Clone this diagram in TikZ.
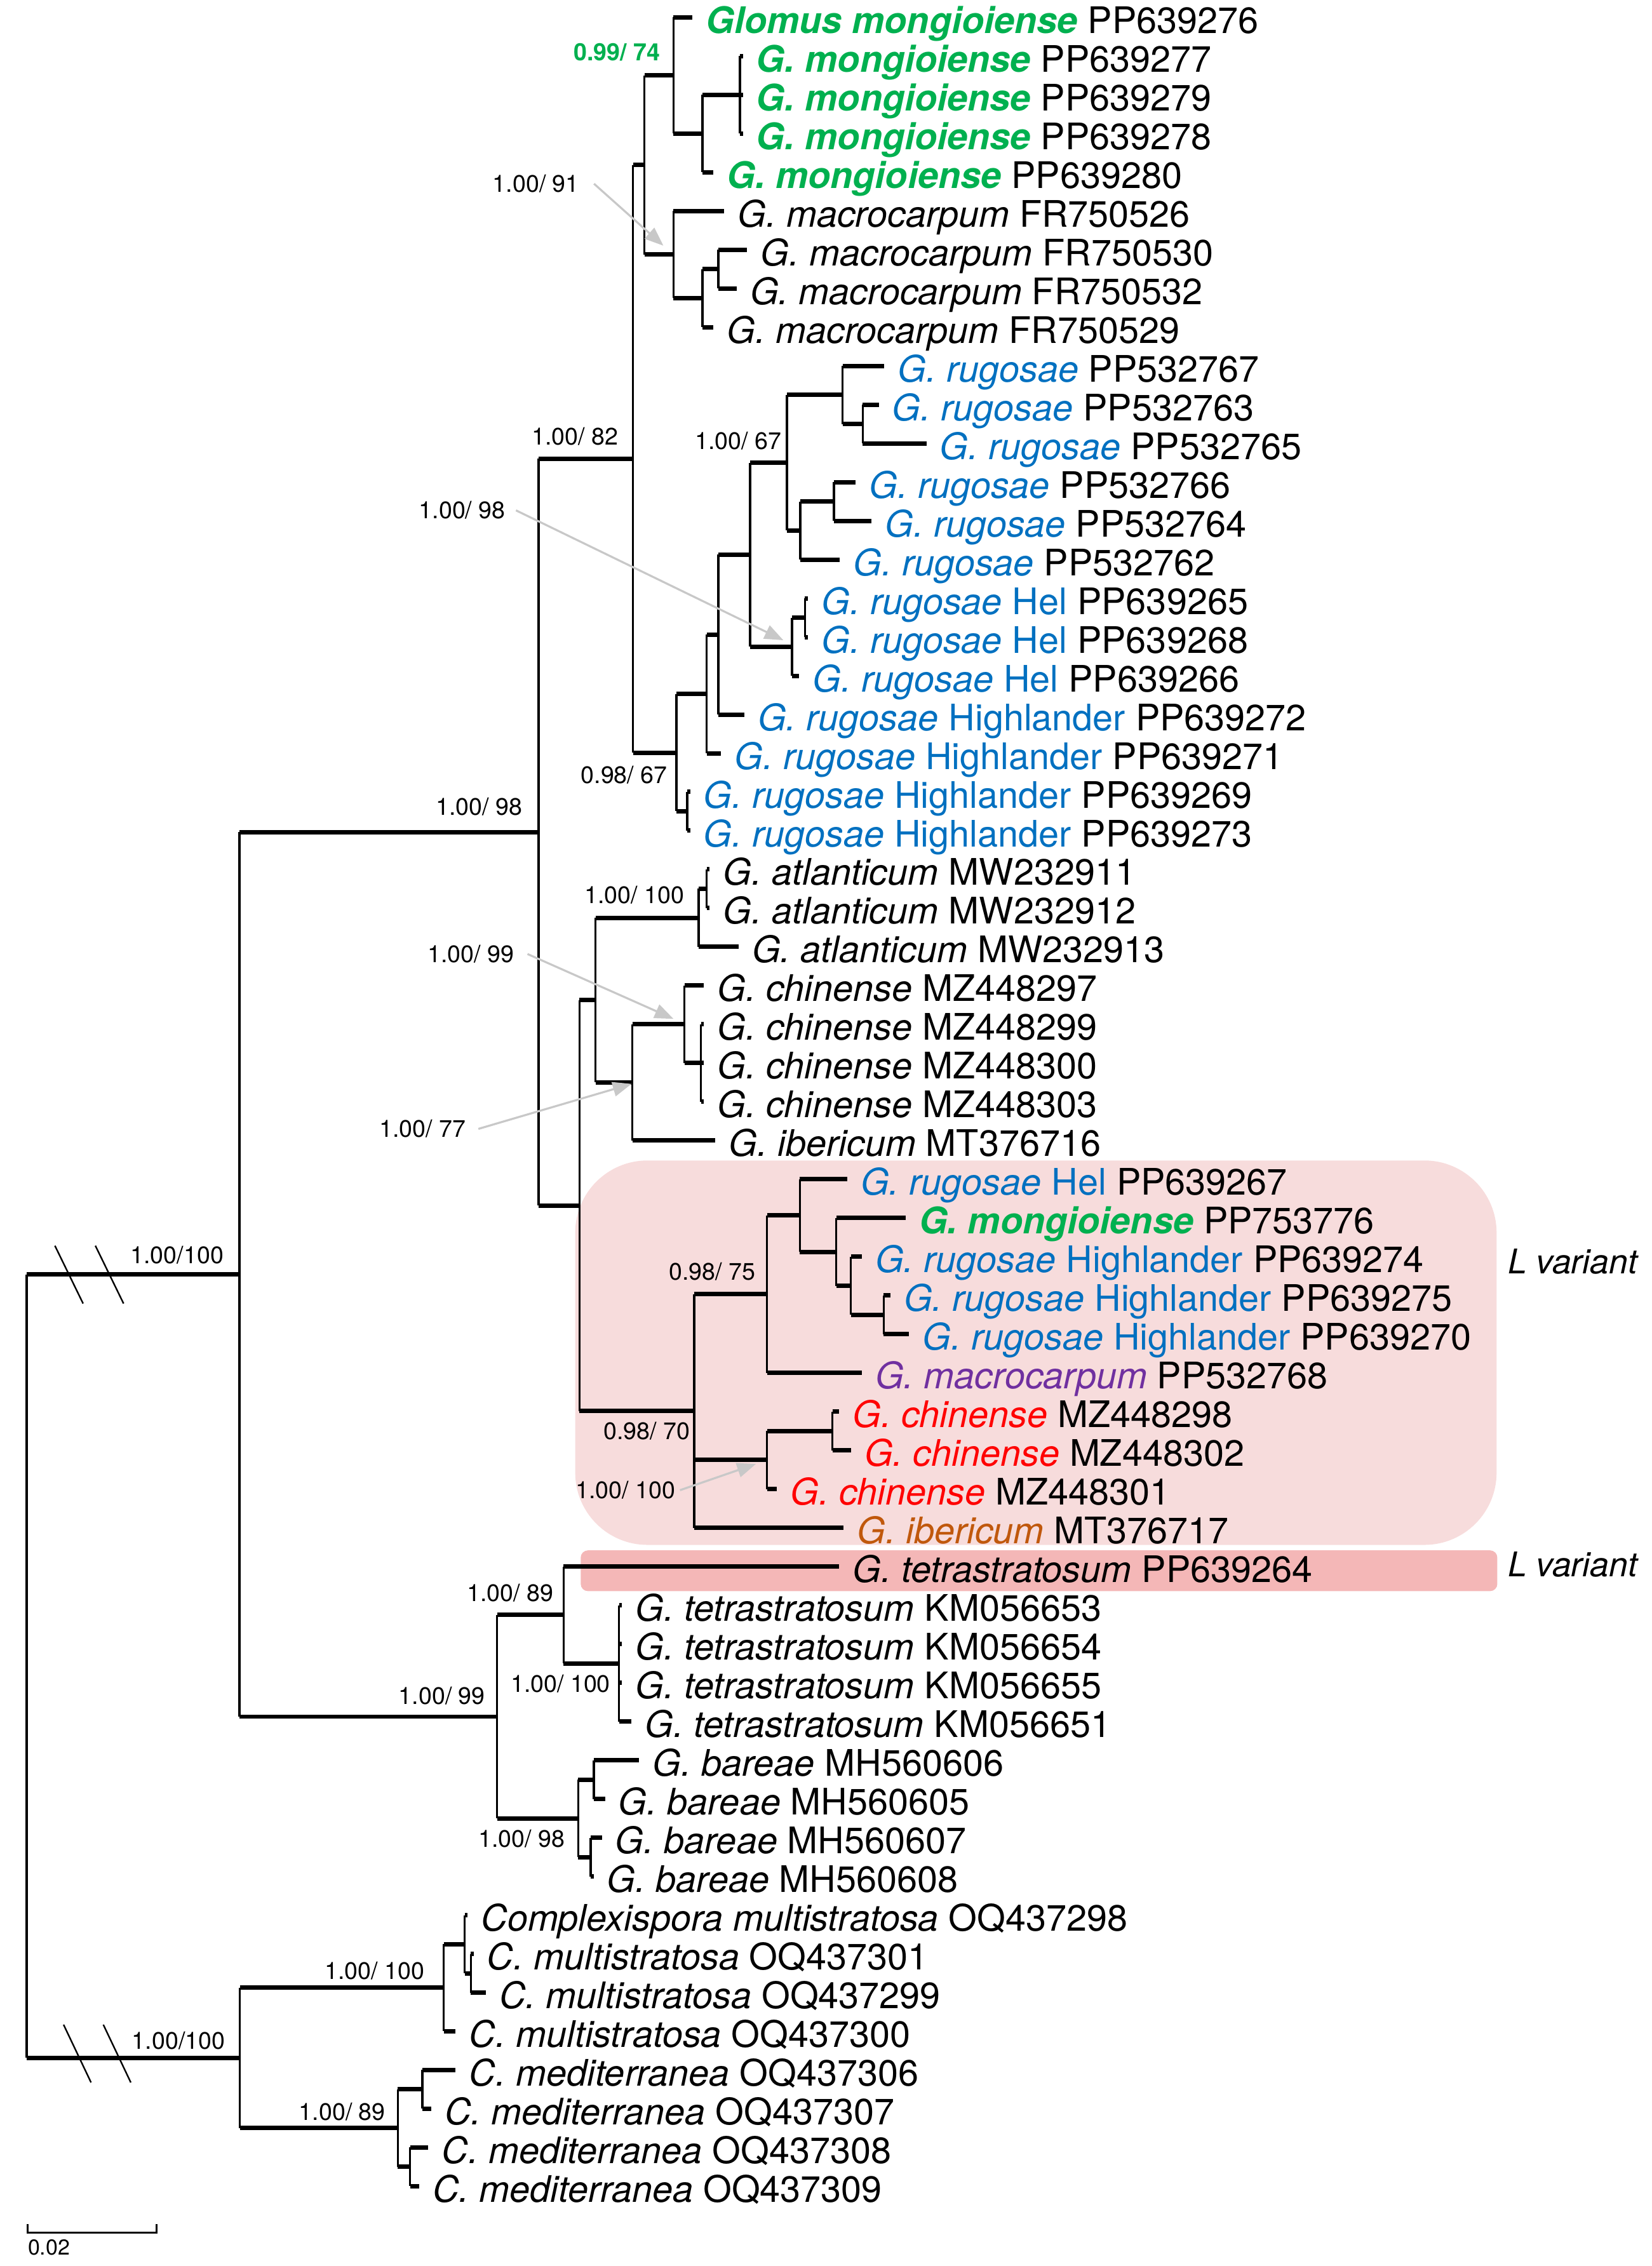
\documentclass[tikz,border=0pt]{standalone}
\usepackage{fontspec}
\setmainfont{TeX Gyre Heros}
\usepackage{tikz}
\usetikzlibrary{arrows.meta,positioning}

\definecolor{mongreen}{HTML}{00B04F}
\definecolor{rugblue}{HTML}{0070C0}
\definecolor{macpurple}{HTML}{7030A0}
\definecolor{chired}{HTML}{FF0000}
\definecolor{ibebrown}{HTML}{C0580C}
\definecolor{lboxpink}{HTML}{F7DCDC}
\definecolor{lbarpink}{HTML}{F4B7B7}
\definecolor{pointergray}{HTML}{C8C8C8}

\newcommand{\gmon}[1]{\textcolor{mongreen}{\bfseries\itshape #1}}
\newcommand{\grug}[1]{\textcolor{rugblue}{\textit{G. rugosae}#1}}

\begin{document}
\begin{tikzpicture}[x=0.02cm,y=-0.02cm,
    hbr/.style={draw,line width=1.75pt},
    vbr/.style={draw,line width=0.8pt},
    leaf/.style={anchor=base west,inner sep=0pt,xshift=0.18cm,yshift=-0.22cm,font=\fontsize{14.4}{16}\selectfont},
    support/.style={anchor=base east,inner sep=0pt,font=\fontsize{9.4}{11}\selectfont},
    pointer/.style={draw=pointergray,line width=0.8pt,-{Triangle[length=0.26cm,width=0.2cm]}},
    brk/.style={line width=0.6pt},
    lvar/.style={anchor=base west,inner sep=0pt,font=\fontsize{13.4}{15}\selectfont\itshape}]
  \useasboundingbox (0,0) rectangle (1143,1568);

  % L variant boxes
  \fill[lboxpink,rounded corners=1cm] (398,803) rectangle (1035.5,1069);
  \fill[lbarpink,rounded corners=0.1cm] (401.8,1072.8) rectangle (1036,1101);

  % internal nodes
  \coordinate (rt) at (18.5,1152.9);
  \coordinate (u0) at (165.7,881.85);
  \coordinate (w0) at (166,1424);
  \coordinate (aa) at (372.7,575.85);
  \coordinate (tb) at (344,1187.85);
  \coordinate (tt0) at (438,317.5);
  \coordinate (bb) at (401,834.2);
  \coordinate (tt1) at (446,114.2);
  \coordinate (r0) at (468,520.8);
  \coordinate (m0) at (466,52.2);
  \coordinate (c0) at (466,176.15);
  \coordinate (m1) at (486,92.4);
  \coordinate (m2) at (512,65.6);
  \coordinate (c1) at (486,206.3);
  \coordinate (c2) at (497,186.2);
  \coordinate (r1) at (489,480.2);
  \coordinate (rh) at (475.5,561.4);
  \coordinate (r2) at (497,439.1);
  \coordinate (r3) at (519,383.85);
  \coordinate (r4) at (544.5,320.2);
  \coordinate (r5) at (583,273.3);
  \coordinate (r6) at (597,293.4);
  \coordinate (r7) at (553.7,367.1);
  \coordinate (r8) at (577,347);
  \coordinate (h1) at (548,447.5);
  \coordinate (h2) at (557,427.4);
  \coordinate (dd) at (412,692.05);
  \coordinate (at1) at (483.4,635.1);
  \coordinate (at2) at (489,615);
  \coordinate (ee) at (437.5,749);
  \coordinate (ch1) at (473.6,708.8);
  \coordinate (ch2) at (485,735.6);
  \coordinate (ff) at (480.3,976.4);
  \coordinate (gg) at (530.7,895.55);
  \coordinate (hh) at (553.4,841.1);
  \coordinate (ii) at (578.7,866.25);
  \coordinate (jj) at (588.8,889.7);
  \coordinate (kk) at (611.5,909.8);
  \coordinate (lc1) at (530.7,1010.3);
  \coordinate (lc2) at (576,990.2);
  \coordinate (te1) at (390,1117.5);
  \coordinate (te2) at (428.4,1151);
  \coordinate (ba0) at (400,1258.2);
  \coordinate (ba1) at (410.9,1231.4);
  \coordinate (ba2) at (408.7,1285);
  \coordinate (cm0) at (307,1375.45);
  \coordinate (cm1) at (321.6,1345.3);
  \coordinate (cm2) at (325.7,1365.4);
  \coordinate (me0) at (275.3,1472.6);
  \coordinate (me1) at (292.2,1445.8);
  \coordinate (me2) at (283.7,1499.4);

  % tips
  \coordinate (t01) at (479,12.0);
  \coordinate (t02) at (514,38.8);
  \coordinate (t03) at (514,65.6);
  \coordinate (t04) at (514,92.4);
  \coordinate (t05) at (493.6,119.2);
  \coordinate (t06) at (501,146.0);
  \coordinate (t07) at (517,172.8);
  \coordinate (t08) at (509.7,199.6);
  \coordinate (t09) at (493.6,226.4);
  \coordinate (t10) at (611.8,253.2);
  \coordinate (t11) at (608,280.0);
  \coordinate (t12) at (641,306.8);
  \coordinate (t13) at (592,333.6);
  \coordinate (t14) at (603,360.4);
  \coordinate (t15) at (581,387.2);
  \coordinate (t16) at (559,414.0);
  \coordinate (t17) at (559,440.8);
  \coordinate (t18) at (553,467.6);
  \coordinate (t19) at (515,494.4);
  \coordinate (t20) at (499,521.2);
  \coordinate (t21) at (477.5,548.0);
  \coordinate (t22) at (477.5,574.8);
  \coordinate (t23) at (491,601.6);
  \coordinate (t24) at (491,628.4);
  \coordinate (t25) at (511,655.2);
  \coordinate (t26) at (487,682.0);
  \coordinate (t27) at (487,708.8);
  \coordinate (t28) at (487,735.6);
  \coordinate (t29) at (487,762.4);
  \coordinate (t30) at (495,789.2);
  \coordinate (t31) at (586.2,816.0);
  \coordinate (t32) at (626.6,842.8);
  \coordinate (t33) at (596.3,869.6);
  \coordinate (t34) at (616,896.4);
  \coordinate (t35) at (629,923.2);
  \coordinate (t36) at (596.3,950.0);
  \coordinate (t37) at (580.5,976.8);
  \coordinate (t38) at (588.8,1003.6);
  \coordinate (t39) at (537.6,1030.4);
  \coordinate (t40) at (583.7,1057.2);
  \coordinate (t41) at (580.7,1084.0);
  \coordinate (t42) at (430.4,1110.8);
  \coordinate (t43) at (430.4,1137.6);
  \coordinate (t44) at (430.4,1164.4);
  \coordinate (t45) at (437,1191.2);
  \coordinate (t46) at (442.2,1218.0);
  \coordinate (t47) at (418.6,1244.8);
  \coordinate (t48) at (416.4,1271.6);
  \coordinate (t49) at (410.7,1298.4);
  \coordinate (t50) at (323.6,1325.2);
  \coordinate (t51) at (327.7,1352.0);
  \coordinate (t52) at (336.2,1378.8);
  \coordinate (t53) at (315.3,1405.6);
  \coordinate (t54) at (315.3,1432.4);
  \coordinate (t55) at (298.4,1459.2);
  \coordinate (t56) at (296.3,1486.0);
  \coordinate (t57) at (290,1512.8);

  % branches
  \path (rt|-u0) edge[hbr] (u0) edge[vbr] (rt|-w0) (rt|-w0) edge[hbr] (w0);
  \path (u0|-aa) edge[hbr] (aa) edge[vbr] (u0|-tb) (u0|-tb) edge[hbr] (tb);
  \path (w0|-cm0) edge[hbr] (cm0) edge[vbr] (w0|-me0) (w0|-me0) edge[hbr] (me0);
  \path (aa|-tt0) edge[hbr] (tt0) edge[vbr] (aa|-bb) (aa|-bb) edge[hbr] (bb);
  \path (tt0|-tt1) edge[hbr] (tt1) edge[vbr] (tt0|-r0) (tt0|-r0) edge[hbr] (r0);
  \path (tt1|-m0) edge[hbr] (m0) edge[vbr] (tt1|-c0) (tt1|-c0) edge[hbr] (c0);
  \path (m0|-t01) edge[hbr] (t01) edge[vbr] (m0|-m1) (m0|-m1) edge[hbr] (m1);
  \path (m1|-m2) edge[hbr] (m2) edge[vbr] (m1|-t05) (m1|-t05) edge[hbr] (t05);
  \path (m2|-t02) edge[hbr] (t02) edge[vbr] (m2|-t04) (m2|-t03) edge[hbr] (t03) (m2|-t04) edge[hbr] (t04);
  \path (c0|-t06) edge[hbr] (t06) edge[vbr] (c0|-c1) (c0|-c1) edge[hbr] (c1);
  \path (c1|-c2) edge[hbr] (c2) edge[vbr] (c1|-t09) (c1|-t09) edge[hbr] (t09);
  \path (c2|-t07) edge[hbr] (t07) edge[vbr] (c2|-t08) (c2|-t08) edge[hbr] (t08);
  \path (r0|-r1) edge[hbr] (r1) edge[vbr] (r0|-rh) (r0|-rh) edge[hbr] (rh);
  \path (r1|-r2) edge[hbr] (r2) edge[vbr] (r1|-t20) (r1|-t20) edge[hbr] (t20);
  \path (r2|-r3) edge[hbr] (r3) edge[vbr] (r2|-t19) (r2|-t19) edge[hbr] (t19);
  \path (r3|-r4) edge[hbr] (r4) edge[vbr] (r3|-h1) (r3|-h1) edge[hbr] (h1);
  \path (r4|-r5) edge[hbr] (r5) edge[vbr] (r4|-r7) (r4|-r7) edge[hbr] (r7);
  \path (r5|-t10) edge[hbr] (t10) edge[vbr] (r5|-r6) (r5|-r6) edge[hbr] (r6);
  \path (r6|-t11) edge[hbr] (t11) edge[vbr] (r6|-t12) (r6|-t12) edge[hbr] (t12);
  \path (r7|-r8) edge[hbr] (r8) edge[vbr] (r7|-t15) (r7|-t15) edge[hbr] (t15);
  \path (r8|-t13) edge[hbr] (t13) edge[vbr] (r8|-t14) (r8|-t14) edge[hbr] (t14);
  \path (h1|-h2) edge[hbr] (h2) edge[vbr] (h1|-t18) (h1|-t18) edge[hbr] (t18);
  \path (h2|-t16) edge[hbr] (t16) edge[vbr] (h2|-t17) (h2|-t17) edge[hbr] (t17);
  \path (rh|-t21) edge[hbr] (t21) edge[vbr] (rh|-t22) (rh|-t22) edge[hbr] (t22);
  \path (bb|-dd) edge[hbr] (dd) edge[vbr] (bb|-ff) (bb|-ff) edge[hbr] (ff);
  \path (dd|-at1) edge[hbr] (at1) edge[vbr] (dd|-ee) (dd|-ee) edge[hbr] (ee);
  \path (at1|-at2) edge[hbr] (at2) edge[vbr] (at1|-t25) (at1|-t25) edge[hbr] (t25);
  \path (at2|-t23) edge[hbr] (t23) edge[vbr] (at2|-t24) (at2|-t24) edge[hbr] (t24);
  \path (ee|-ch1) edge[hbr] (ch1) edge[vbr] (ee|-t30) (ee|-t30) edge[hbr] (t30);
  \path (ch1|-t26) edge[hbr] (t26) edge[vbr] (ch1|-ch2) (ch1|-ch2) edge[hbr] (ch2);
  \path (ch2|-t27) edge[hbr] (t27) edge[vbr] (ch2|-t29) (ch2|-t28) edge[hbr] (t28) (ch2|-t29) edge[hbr] (t29);
  \path (ff|-gg) edge[hbr] (gg) edge[vbr] (ff|-t40) (ff|-lc1) edge[hbr] (lc1) (ff|-t40) edge[hbr] (t40);
  \path (gg|-hh) edge[hbr] (hh) edge[vbr] (gg|-t36) (gg|-t36) edge[hbr] (t36);
  \path (hh|-t31) edge[hbr] (t31) edge[vbr] (hh|-ii) (hh|-ii) edge[hbr] (ii);
  \path (ii|-t32) edge[hbr] (t32) edge[vbr] (ii|-jj) (ii|-jj) edge[hbr] (jj);
  \path (jj|-t33) edge[hbr] (t33) edge[vbr] (jj|-kk) (jj|-kk) edge[hbr] (kk);
  \path (kk|-t34) edge[hbr] (t34) edge[vbr] (kk|-t35) (kk|-t35) edge[hbr] (t35);
  \path (lc1|-lc2) edge[hbr] (lc2) edge[vbr] (lc1|-t39) (lc1|-t39) edge[hbr] (t39);
  \path (lc2|-t37) edge[hbr] (t37) edge[vbr] (lc2|-t38) (lc2|-t38) edge[hbr] (t38);
  \path (tb|-te1) edge[hbr] (te1) edge[vbr] (tb|-ba0) (tb|-ba0) edge[hbr] (ba0);
  \path (te1|-t41) edge[hbr] (t41) edge[vbr] (te1|-te2) (te1|-te2) edge[hbr] (te2);
  \path (te2|-t42) edge[hbr] (t42) edge[vbr] (te2|-t45) (te2|-t43) edge[hbr] (t43) (te2|-t44) edge[hbr] (t44) (te2|-t45) edge[hbr] (t45);
  \path (ba0|-ba1) edge[hbr] (ba1) edge[vbr] (ba0|-ba2) (ba0|-ba2) edge[hbr] (ba2);
  \path (ba1|-t46) edge[hbr] (t46) edge[vbr] (ba1|-t47) (ba1|-t47) edge[hbr] (t47);
  \path (ba2|-t48) edge[hbr] (t48) edge[vbr] (ba2|-t49) (ba2|-t49) edge[hbr] (t49);
  \path (cm0|-cm1) edge[hbr] (cm1) edge[vbr] (cm0|-t53) (cm0|-t53) edge[hbr] (t53);
  \path (cm1|-t50) edge[hbr] (t50) edge[vbr] (cm1|-cm2) (cm1|-cm2) edge[hbr] (cm2);
  \path (cm2|-t51) edge[hbr] (t51) edge[vbr] (cm2|-t52) (cm2|-t52) edge[hbr] (t52);
  \path (me0|-me1) edge[hbr] (me1) edge[vbr] (me0|-me2) (me0|-me2) edge[hbr] (me2);
  \path (me1|-t54) edge[hbr] (t54) edge[vbr] (me1|-t55) (me1|-t55) edge[hbr] (t55);
  \path (me2|-t56) edge[hbr] (t56) edge[vbr] (me2|-t57) (me2|-t57) edge[hbr] (t57);

  % broken root branches
  \draw[brk] (38,862) -- (57.5,902);
  \draw[brk] (66,862) -- (85.5,902);
  \draw[brk] (44,1401) -- (63,1441);
  \draw[brk] (71.5,1401) -- (90.5,1441);

  % leaves
  \node[leaf] (l01) at (t01) {\gmon{Glomus mongioiense} PP639276};
  \node[leaf] (l02) at (t02) {\gmon{G. mongioiense} PP639277};
  \node[leaf] (l03) at (t03) {\gmon{G. mongioiense} PP639279};
  \node[leaf] (l04) at (t04) {\gmon{G. mongioiense} PP639278};
  \node[leaf] (l05) at (t05) {\gmon{G. mongioiense} PP639280};
  \node[leaf] (l06) at (t06) {\textit{G. macrocarpum} FR750526};
  \node[leaf] (l07) at (t07) {\textit{G. macrocarpum} FR750530};
  \node[leaf] (l08) at (t08) {\textit{G. macrocarpum} FR750532};
  \node[leaf] (l09) at (t09) {\textit{G. macrocarpum} FR750529};
  \node[leaf] (l10) at (t10) {\grug{} PP532767};
  \node[leaf] (l11) at (t11) {\grug{} PP532763};
  \node[leaf] (l12) at (t12) {\grug{} PP532765};
  \node[leaf] (l13) at (t13) {\grug{} PP532766};
  \node[leaf] (l14) at (t14) {\grug{} PP532764};
  \node[leaf] (l15) at (t15) {\grug{} PP532762};
  \node[leaf] (l16) at (t16) {\grug{ Hel} PP639265};
  \node[leaf] (l17) at (t17) {\grug{ Hel} PP639268};
  \node[leaf] (l18) at (t18) {\grug{ Hel} PP639266};
  \node[leaf] (l19) at (t19) {\grug{ Highlander} PP639272};
  \node[leaf] (l20) at (t20) {\grug{ Highlander} PP639271};
  \node[leaf] (l21) at (t21) {\grug{ Highlander} PP639269};
  \node[leaf] (l22) at (t22) {\grug{ Highlander} PP639273};
  \node[leaf] (l23) at (t23) {\textit{G. atlanticum} MW232911};
  \node[leaf] (l24) at (t24) {\textit{G. atlanticum} MW232912};
  \node[leaf] (l25) at (t25) {\textit{G. atlanticum} MW232913};
  \node[leaf] (l26) at (t26) {\textit{G. chinense} MZ448297};
  \node[leaf] (l27) at (t27) {\textit{G. chinense} MZ448299};
  \node[leaf] (l28) at (t28) {\textit{G. chinense} MZ448300};
  \node[leaf] (l29) at (t29) {\textit{G. chinense} MZ448303};
  \node[leaf] (l30) at (t30) {\textit{G. ibericum} MT376716};
  \node[leaf] (l31) at (t31) {\grug{ Hel} PP639267};
  \node[leaf] (l32) at (t32) {\gmon{G. mongioiense} PP753776};
  \node[leaf] (l33) at (t33) {\grug{ Highlander} PP639274};
  \node[leaf] (l34) at (t34) {\grug{ Highlander} PP639275};
  \node[leaf] (l35) at (t35) {\grug{ Highlander} PP639270};
  \node[leaf] (l36) at (t36) {\textcolor{macpurple}{\textit{G. macrocarpum}} PP532768};
  \node[leaf] (l37) at (t37) {\textcolor{chired}{\textit{G. chinense}} MZ448298};
  \node[leaf] (l38) at (t38) {\textcolor{chired}{\textit{G. chinense}} MZ448302};
  \node[leaf] (l39) at (t39) {\textcolor{chired}{\textit{G. chinense}} MZ448301};
  \node[leaf] (l40) at (t40) {\textcolor{ibebrown}{\textit{G. ibericum}} MT376717};
  \node[leaf] (l41) at (t41) {\textit{G. tetrastratosum} PP639264};
  \node[leaf] (l42) at (t42) {\textit{G. tetrastratosum} KM056653};
  \node[leaf] (l43) at (t43) {\textit{G. tetrastratosum} KM056654};
  \node[leaf] (l44) at (t44) {\textit{G. tetrastratosum} KM056655};
  \node[leaf] (l45) at (t45) {\textit{G. tetrastratosum} KM056651};
  \node[leaf] (l46) at (t46) {\textit{G. bareae} MH560606};
  \node[leaf] (l47) at (t47) {\textit{G. bareae} MH560605};
  \node[leaf] (l48) at (t48) {\textit{G. bareae} MH560607};
  \node[leaf] (l49) at (t49) {\textit{G. bareae} MH560608};
  \node[leaf] (l50) at (t50) {\textit{Complexispora multistratosa} OQ437298};
  \node[leaf] (l51) at (t51) {\textit{C. multistratosa} OQ437301};
  \node[leaf] (l52) at (t52) {\textit{C. multistratosa} OQ437299};
  \node[leaf] (l53) at (t53) {\textit{C. multistratosa} OQ437300};
  \node[leaf] (l54) at (t54) {\textit{C. mediterranea} OQ437306};
  \node[leaf] (l55) at (t55) {\textit{C. mediterranea} OQ437307};
  \node[leaf] (l56) at (t56) {\textit{C. mediterranea} OQ437308};
  \node[leaf] (l57) at (t57) {\textit{C. mediterranea} OQ437309};

  % support values
  \node[support,text=mongreen,font=\fontsize{9.4}{11}\selectfont\bfseries] (s_mon) at (457,42) {0.99/ 74};
  \node[support] (s_mac) at (401,133) {1.00/ 91};
  \node[support] (s_glo) at (428,308) {1.00/ 82};
  \node[support] (s_rug) at (541,311) {1.00/ 67};
  \node[support] (s_hel) at (350,359) {1.00/ 98};
  \node[support] (s_hig) at (462,542) {0.98/ 67};
  \node[support] (s_aa) at (361.7,564) {1.00/ 98};
  \node[support] (s_atl) at (473.6,625) {1.00/ 100};
  \node[support] (s_chi) at (356,666) {1.00/ 99};
  \node[support] (s_ee) at (322.5,787) {1.00/ 77};
  \node[support] (s_gg) at (523,885.7) {0.98/ 75};
  \node[support] (s_ff) at (477.6,996) {0.98/ 70};
  \node[support] (s_lc) at (467.5,1037) {1.00/ 100};
  \node[support] (s_te1) at (383.3,1108) {1.00/ 89};
  \node[support] (s_te2) at (422.6,1170.8) {1.00/ 100};
  \node[support] (s_tb) at (336,1179.5) {1.00/ 99};
  \node[support] (s_ba) at (391,1278.3) {1.00/ 98};
  \node[support] (s_cm) at (294,1369.7) {1.00/ 100};
  \node[support] (s_me) at (267,1467) {1.00/ 89};
  \node[support] (s_u0) at (155,874.5) {1.00/100};
  \node[support] (s_w0) at (156,1418) {1.00/100};

  % pointers to small clades
  \coordinate (p_mac) at (459,170);
  \coordinate (p_hel) at (542,443);
  \coordinate (p_chi) at (466,705);
  \coordinate (p_ee) at (437,750);
  \coordinate (p_lc) at (523,1013);
  \draw[pointer] ([xshift=0.2cm]s_mac.east) -- (p_mac);
  \draw[pointer] ([xshift=0.14cm]s_hel.east) -- (p_hel);
  \draw[pointer] ([xshift=0.18cm]s_chi.east) -- (p_chi);
  \draw[pointer] ([xshift=0.17cm]s_ee.east) -- (p_ee);
  \draw[pointer] ([xshift=0.06cm]s_lc.east) -- (p_lc);

  \node[lvar] (lv1) at (1043,881.4) {L variant};
  \node[lvar] (lv2) at (1043,1091) {L variant};

  % scale bar
  \draw[vbr] (19,1539) -- (19,1545) -- (108.5,1545) -- (108.5,1539);
  \node[anchor=base west,inner sep=0pt,font=\fontsize{8.5}{10}\selectfont] (scale) at (19,1560.5) {0.02};
\end{tikzpicture}
\end{document}
